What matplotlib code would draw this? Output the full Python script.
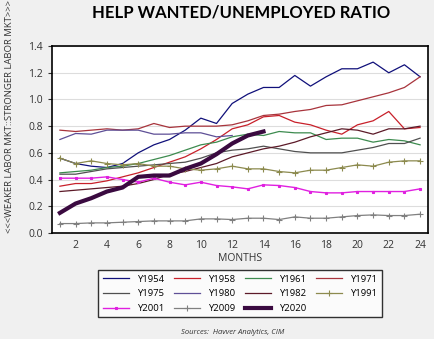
import matplotlib
matplotlib.use("Agg")
import matplotlib.pyplot as plt

plt.rcParams['font.family'] = ['Open Sans', 'DejaVu Sans']

months = list(range(1, 25))

y1954 = [0.56, 0.52, 0.50, 0.49, 0.52, 0.60, 0.66, 0.70, 0.77, 0.86, 0.82, 0.97,
         1.04, 1.09, 1.09, 1.18, 1.10, 1.17, 1.23, 1.23, 1.28, 1.20, 1.26, 1.17]
y1958 = [0.35, 0.37, 0.37, 0.39, 0.42, 0.45, 0.49, 0.53, 0.57, 0.63, 0.70, 0.78,
         0.81, 0.87, 0.88, 0.83, 0.81, 0.77, 0.74, 0.81, 0.84, 0.91, 0.78, 0.79]
y1961 = [0.45, 0.46, 0.47, 0.49, 0.50, 0.52, 0.55, 0.58, 0.62, 0.66, 0.68, 0.72,
         0.74, 0.73, 0.76, 0.75, 0.75, 0.70, 0.71, 0.71, 0.68, 0.70, 0.69, 0.66]
y1971 = [0.77, 0.76, 0.77, 0.78, 0.77, 0.78, 0.82, 0.79, 0.80, 0.80, 0.80, 0.81,
         0.84, 0.88, 0.89, 0.91, 0.925, 0.955, 0.96, 0.99, 1.02, 1.05, 1.09, 1.17]
y1975 = [0.44, 0.44, 0.46, 0.48, 0.49, 0.50, 0.51, 0.52, 0.53, 0.56, 0.60, 0.62,
         0.63, 0.65, 0.63, 0.61, 0.60, 0.60, 0.60, 0.62, 0.64, 0.67, 0.67, 0.71]
y1980 = [0.70, 0.745, 0.74, 0.77, 0.77, 0.77, 0.74, 0.74, 0.75, 0.75, 0.72, 0.73]
y1982 = [0.31, 0.32, 0.33, 0.34, 0.35, 0.37, 0.40, 0.44, 0.46, 0.49, 0.52, 0.57,
         0.60, 0.63, 0.65, 0.68, 0.72, 0.75, 0.78, 0.77, 0.74, 0.78, 0.78, 0.80]
y1991 = [0.56, 0.52, 0.54, 0.52, 0.51, 0.52, 0.50, 0.50, 0.48, 0.47, 0.48, 0.50,
         0.48, 0.48, 0.46, 0.45, 0.47, 0.47, 0.49, 0.51, 0.50, 0.53, 0.54, 0.54]
y2001 = [0.41, 0.41, 0.41, 0.42, 0.40, 0.38, 0.41, 0.38, 0.36, 0.38, 0.355, 0.345,
         0.33, 0.36, 0.355, 0.34, 0.31, 0.30, 0.30, 0.31, 0.31, 0.31, 0.31, 0.33]
y2009 = [0.07, 0.07, 0.075, 0.075, 0.08, 0.085, 0.09, 0.09, 0.09, 0.105, 0.105, 0.10,
         0.11, 0.11, 0.10, 0.12, 0.11, 0.11, 0.12, 0.13, 0.135, 0.13, 0.13, 0.14]
y2020 = [0.15, 0.22, 0.26, 0.31, 0.34, 0.42, 0.43, 0.43, 0.48, 0.52, 0.59, 0.67,
         0.73, 0.76]

# name, values, color, width, marker
series = [
    ('Y1954', y1954, '#10107a', 0.9, None),
    ('Y1958', y1958, '#c8202a', 0.9, None),
    ('Y1961', y1961, '#3d8b4f', 0.9, None),
    ('Y1971', y1971, '#a8343c', 0.9, None),
    ('Y1975', y1975, '#505050', 0.9, None),
    ('Y1980', y1980, '#5e4f96', 0.9, None),
    ('Y1982', y1982, '#5c1a28', 0.9, None),
    ('Y1991', y1991, '#8c8a4e', 0.9, '+'),
    ('Y2001', y2001, '#e020e0', 1.0, 's'),
    ('Y2009', y2009, '#808080', 0.9, '+'),
    ('Y2020', y2020, '#3a0a40', 3.0, None),
]

fig = plt.figure(figsize=(4.34, 3.39), dpi=100, facecolor='#f0f0f0')
ax = fig.add_axes([0.12, 0.313, 0.866, 0.551])
ax.set_facecolor('white')

handles = []
for name, vals, color, lw, mk in series:
    ms = 2.0 if mk == 's' else 4
    ln, = ax.plot(months[:len(vals)], vals, color=color, lw=lw, marker=mk,
                  markersize=ms, markeredgewidth=0.8, label=name)
    handles.append(ln)

ax.set_xlim(0.5, 24.5)
ax.set_ylim(0, 1.4)
ax.set_xticks(range(2, 25, 2))
ax.set_yticks([i * 0.2 for i in range(8)])
ax.set_yticklabels([f'{i * 0.2:.1f}' for i in range(8)])
ax.tick_params(axis='both', labelsize=7.5, colors='#333333', length=3)
ax.tick_params(axis='x', length=0, pad=5)
ax.yaxis.grid(True, color='#dddddd', lw=0.8)
ax.set_axisbelow(True)
for sp in ax.spines.values():
    sp.set_color('black')
    sp.set_linewidth(1.2)

fig.text(0.555, 0.962, 'HELP WANTED/UNEMPLOYED RATIO', ha='center', va='center',
         fontsize=12, fontweight='bold', family=['Lato', 'DejaVu Sans'])
fig.text(0.022, 0.655, '<<<WEAKER LABOR MKT::STRONGER LABOR MKT>>>', rotation=90,
         ha='center', va='center', fontsize=6.8, color='#333333')
fig.text(0.553, 0.236, 'MONTHS', ha='center', va='center', fontsize=7.5, color='#333333')

# legend fills by column, so reorder to read across rows
nrow, ncol = 3, 4
order = []
for c in range(ncol):
    for r in range(nrow):
        i = r * ncol + c
        if i < len(handles):
            order.append(i)
leg = fig.legend([handles[i] for i in order], [series[i][0] for i in order],
                 loc='center', bbox_to_anchor=(0.553, 0.133), ncol=ncol, fontsize=6.8,
                 frameon=True, fancybox=False, handlelength=2.8, columnspacing=1.0,
                 handletextpad=0.85, labelspacing=0.6, borderpad=0.45)
leg.get_frame().set_edgecolor('black')
leg.get_frame().set_linewidth(1.0)

fig.text(0.535, 0.018, 'Sources:  Havver Analytics, CIM', ha='center', va='center',
         fontsize=5.5, style='italic', color='#333333')

fig.savefig('out.png', dpi=100, facecolor=fig.get_facecolor())
